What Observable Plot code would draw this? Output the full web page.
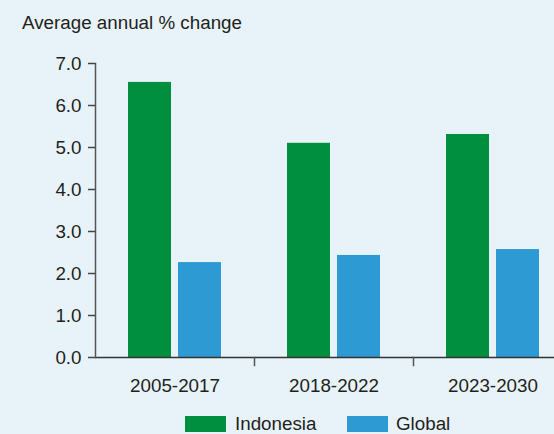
<!DOCTYPE html>
<html>
<head>
<meta charset="utf-8">
<script src="https://cdn.jsdelivr.net/npm/d3@7"></script>
<script src="https://cdn.jsdelivr.net/npm/@observablehq/plot@0.6"></script>
<style>
  html, body { margin: 0; padding: 0; }
  body { width: 554px; height: 434px; background: #e8f3f9; position: relative; overflow: hidden;
         font-family: "Liberation Sans", Arial, sans-serif; color: #231f20; }
  #title { position: absolute; left: 22px; top: 14px; font-size: 18.8px; line-height: 1; }
  #chart { position: absolute; left: 0; top: 0; }
  #legend { position: absolute; top: 416px; left: 0; font-size: 18.8px; line-height: 1; }
  .sw { position: absolute; top: 0; width: 41px; height: 16px; }
  .lab { position: absolute; top: -1px; white-space: nowrap; }
</style>
</head>
<body>
<div id="title">Average annual % change</div>
<div id="chart"></div>
<div id="legend"></div>
<script>
const periods = ["2005-2017", "2018-2022", "2023-2030"];
const seriesNames = ["Indonesia", "Global"];
const indonesia = [6.55, 5.10, 5.31];
const global = [2.26, 2.43, 2.57];
const yTicks = [0, 1, 2, 3, 4, 5, 6, 7];
const colors = ["#008f3f", "#2e9ad3"];

const rows = [];
periods.forEach((p, i) => {
  rows.push({period: p, series: "Indonesia", value: indonesia[i]});
  rows.push({period: p, series: "Global", value: global[i]});
});

const chart = Plot.plot({
  width: 554,
  height: 434,
  marginLeft: 95,
  marginRight: -18,
  marginTop: 63,
  marginBottom: 77,
  style: {background: "transparent", fontFamily: "Liberation Sans, Arial, sans-serif", fontSize: "18.8px", color: "#231f20"},
  fx: {domain: periods, padding: 0, label: null},
  x: {domain: seriesNames, paddingInner: 0.14, paddingOuter: 0.66, axis: null},
  y: {domain: [0, 7], axis: null},
  color: {domain: seriesNames, range: colors},
  marks: [
    Plot.barY(rows, {fx: "period", x: "series", y: "value", fill: "series"}),
    Plot.ruleY([0], {stroke: "#333", strokeWidth: 1.5}),
    Plot.frame({anchor: "left", facetAnchor: "left", stroke: "#555", strokeWidth: 1.5}),
    Plot.frame({anchor: "right", insetTop: 294, insetBottom: -8, stroke: "#555", strokeWidth: 1.5}),
    Plot.axisY({ticks: yTicks, tickFormat: d3.format(".1f"), tickSize: 7, tickPadding: 7,
                stroke: "#444", strokeWidth: 1.5, color: "#231f20", fontSize: 18.8, label: null}),
    Plot.axisFx({anchor: "bottom", tickSize: 0, tickPadding: 21, fontSize: 18.8, color: "#231f20", label: null})
  ]
});
document.getElementById("chart").appendChild(chart);

const legend = document.getElementById("legend");
const swatchX = [185, 347];
const labelX = [235, 396];
seriesNames.forEach((s, i) => {
  const sw = document.createElement("div");
  sw.className = "sw";
  sw.style.left = swatchX[i] + "px";
  sw.style.background = colors[i];
  legend.appendChild(sw);
  const lab = document.createElement("div");
  lab.className = "lab";
  lab.style.left = labelX[i] + "px";
  lab.textContent = s;
  legend.appendChild(lab);
});
</script>
</body>
</html>
